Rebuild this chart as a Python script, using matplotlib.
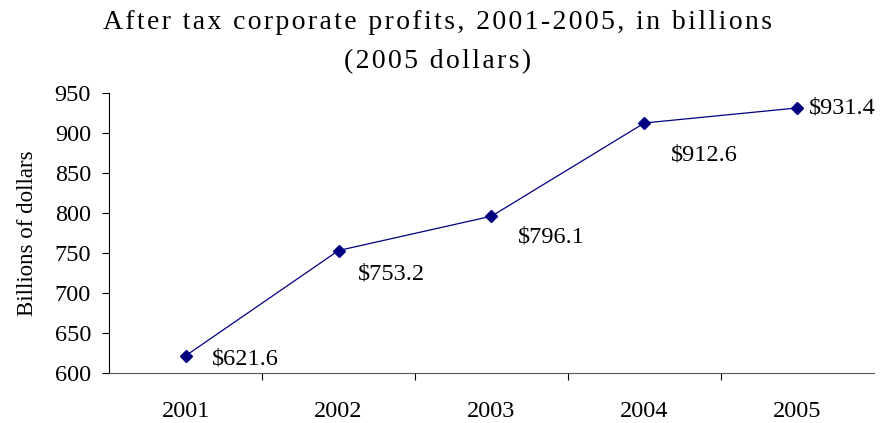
import matplotlib.pyplot as plt

years = ['2001', '2002', '2003', '2004', '2005']
profits = [621.6, 753.2, 796.1, 912.6, 931.4]
labels = ['$621.6', '$753.2', '$796.1', '$912.6', '$931.4']
# label offsets in points (right / below of each marker)
offsets = [(19, -2), (14, -17), (19, -15), (19, -23), (8, 0)]

plt.rcParams['font.family'] = ['Liberation Serif', 'DejaVu Serif']

fig = plt.figure(figsize=(8.8, 4.23), dpi=100)
ax = fig.add_axes([0.124, 0.118, 0.869, 0.662])

x = [i + 0.5 for i in range(len(years))]
ax.plot(x, profits, color='#000080', lw=0.9, marker='D', ms=6, mfc='#000080', mec='#000080')

for xi, yi, lab, off in zip(x, profits, labels, offsets):
    ax.annotate(lab, (xi, yi), xytext=off, textcoords='offset points',
                ha='left', va='center', fontsize=17.5)

ax.set_xlim(0, 5)
ax.set_ylim(600, 950)
ax.set_yticks(range(600, 951, 50))
ax.tick_params(axis='y', labelsize=17.5, direction='out', length=5, width=0.8, pad=8)
ax.set_xticks([1, 2, 3, 4])
ax.set_xticklabels([])
ax.set_xticks(x, minor=True)
ax.set_xticklabels(years, minor=True)
ax.tick_params(axis='x', which='major', direction='out', length=5, width=0.8)
ax.tick_params(axis='x', which='minor', length=0, labelsize=17.5, pad=20)

for s in ['top', 'right']:
    ax.spines[s].set_visible(False)
ax.spines['left'].set_linewidth(0.8)
ax.spines['bottom'].set_linewidth(0.8)
ax.spines['bottom'].set_color('#555555')

ax.set_ylabel('Billions of dollars', fontsize=16.5, labelpad=12)

# letter-spaced two-line title
title_lines = ['After tax corporate profits, 2001-2005, in billions', '(2005 dollars)']
for line, yb in zip(title_lines, [0.931, 0.839]):
    fig.text(0.497, yb, '\u200a'.join(line), ha='center', va='baseline', fontsize=20)

fig.savefig('out.png', dpi=100)
